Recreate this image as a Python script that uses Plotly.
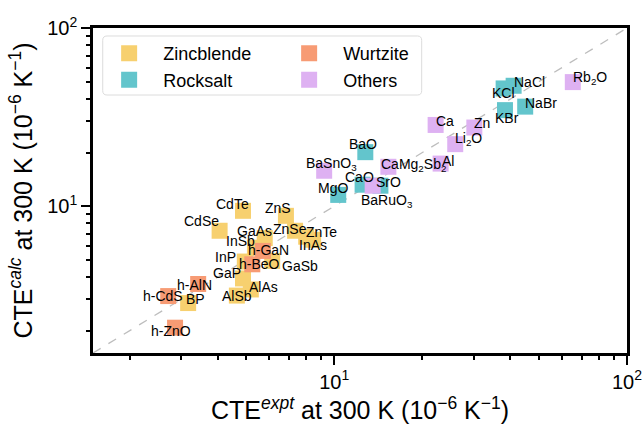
import plotly.graph_objects as go
import math

# ---------------- data ----------------
zb_names = ["CdTe", "ZnS", "CdSe", "GaAs", "ZnSe", "ZnTe", "InAs", "InSb", "InP", "GaSb", "GaP", "AlAs", "AlSb", "BP"]
zb_expt = [4.88, 6.84, 4.06, 5.79, 7.35, 8.02, 8.47, 5.36, 4.95, 6.14, 4.88, 5.19, 4.65, 3.17]
zb_calc = [9.42, 8.83, 7.28, 6.62, 7.28, 6.74, 6.48, 5.85, 4.89, 4.93, 3.93, 3.41, 3.15, 2.86]

wz_names = ["h-GaN", "h-BeO", "h-AlN", "h-CdS", "h-ZnO"]
wz_expt = [5.71, 5.25, 3.43, 2.71, 2.86]
wz_calc = [5.61, 4.72, 3.66, 3.13, 2.08]

rs_names = ["BaO", "CaO", "SrO", "MgO", "KCl", "NaCl", "KBr", "NaBr"]
rs_expt = [12.77, 12.5, 14.38, 10.32, 37.9, 41.0, 38.3, 44.9]
rs_calc = [20.1, 13.2, 13.03, 11.57, 45.8, 47.4, 34.6, 36.2]

ot_names = ["BaSnO<sub>3</sub>", "CaMg<sub>2</sub>Sb<sub>2</sub>", "BaRuO<sub>3</sub>", "Al",
            "Li<sub>2</sub>O", "Ca", "Zn", "Rb<sub>2</sub>O"]
ot_expt = [9.24, 15.31, 13.53, 23.09, 25.9, 22.2, 30.1, 65.3]
ot_calc = [15.81, 16.64, 13.03, 17.34, 22.29, 28.57, 27.63, 49.7]

# label offsets in pixels (dx right, dy down)
zb_off = [(-11, -7), (-7.5, -8), (-18, -9.3), (-10.7, -7.6), (-5, -2), (15, -4.7), (0, 5),
          (-14.5, -6.3), (-19, -4.7), (27.7, 5.4), (-16.5, -5), (13, -2.7), (0, 0), (7.5, -4.5)]
wz_off = [(6, -0.6), (7.7, -0.7), (-3.5, 1.2), (-5.5, 0), (-4, 3.2)]
rs_off = [(-2.7, -8), (-3.3, -7.4), (8, -4), (-5.5, -6.7), (0.3, 4.3), (15.8, -3.6), (2, 7.6), (15.7, -4)]
ot_off = [(7, -6.7), (25, -2), (14.2, 15), (7, -2.8), (13.5, -5), (9, -4), (7.3, -4.3), (17.3, -4.4)]

axis_min, axis_max = 1.5, 100
major_ticks = [10, 100]
major_text = ["10<sup>1</sup>", "10<sup>2</sup>"]
minor_ticks = [2, 3, 4, 5, 6, 7, 8, 9, 20, 30, 40, 50, 60, 70, 80, 90]

# (legend name, colour, names, expt, calc, offsets, legend entry width)
groups = [
    ("Zincblende", "#F7D06F", zb_names, zb_expt, zb_calc, zb_off, 107),
    ("Wurtzite", "#F79B74", wz_names, wz_expt, wz_calc, wz_off, 72),
    ("Rocksalt", "#63C5CC", rs_names, rs_expt, rs_calc, rs_off, 107),
    ("Others", "#DEB1F2", ot_names, ot_expt, ot_calc, ot_off, 72),
]

FONT = "Liberation Sans, Arial, sans-serif"

fig = go.Figure()
fig.add_trace(go.Scatter(x=[axis_min, axis_max], y=[axis_min, axis_max], mode="lines",
                         line=dict(color="#bdbdbd", width=1.3, dash="dash"),
                         showlegend=False, hoverinfo="skip"))

annotations = []
for name, color, names, xs, ys, offs, lw in groups:
    fig.add_trace(go.Scatter(x=xs, y=ys, mode="markers", name=name, legendwidth=lw,
                             marker=dict(symbol="square", size=16, color=color,
                                         line=dict(width=0))))
    for n, xv, yv, (dx, dy) in zip(names, xs, ys, offs):
        annotations.append(dict(x=math.log10(xv), y=math.log10(yv), xref="x", yref="y",
                                text=n, showarrow=False, xshift=dx, yshift=-dy,
                                font=dict(size=14, color="black", family=FONT)))

axis_common = dict(
    type="log", range=[math.log10(axis_min), math.log10(axis_max)], automargin=False,
    tickvals=major_ticks, ticktext=major_text, ticks="outside", ticklen=9, tickwidth=2,
    tickcolor="black", showline=True, linecolor="black", linewidth=2.5, mirror=True,
    showgrid=False, zeroline=False, tickfont=dict(size=20, color="black", family=FONT),
    minor=dict(tickvals=minor_ticks, ticks="outside", ticklen=4, tickwidth=1.5,
               tickcolor="black", showgrid=False),
)

# legend frame (rounded rectangle, paper coordinates)
fx0, fx1, fy0, fy1, r = 0.0182, 0.6155, 0.7938, 0.9754, 0.008
ry = r * 534 / 325
frame_path = (f"M {fx0 + r},{fy1} L {fx1 - r},{fy1} Q {fx1},{fy1} {fx1},{fy1 - ry} "
              f"L {fx1},{fy0 + ry} Q {fx1},{fy0} {fx1 - r},{fy0} L {fx0 + r},{fy0} "
              f"Q {fx0},{fy0} {fx0},{fy0 + ry} L {fx0},{fy1 - ry} Q {fx0},{fy1} {fx0 + r},{fy1} Z")

fig.update_layout(
    template="none",
    width=644, height=425,
    margin=dict(l=93, r=17, t=28, b=72),
    paper_bgcolor="white", plot_bgcolor="white",
    font=dict(family=FONT, color="black"),
    xaxis=dict(axis_common, title=dict(
        text="CTE<sup><i>expt</i></sup> at 300 K (10<sup>\u22126</sup> K<sup>\u22121</sup>)",
        font=dict(size=25, family=FONT), standoff=4)),
    yaxis=dict(axis_common, title=dict(
        text="CTE<sup><i>calc</i></sup> at 300 K (10<sup>\u22126</sup> K<sup>\u22121</sup>)",
        font=dict(size=25, family=FONT), standoff=8)),
    legend=dict(orientation="h", x=0.004, y=0.978, xanchor="left", yanchor="top",
                bgcolor="rgba(0,0,0,0)", borderwidth=0,
                font=dict(size=18, family=FONT), itemwidth=58,
                traceorder="normal"),
    shapes=[dict(type="path", xref="paper", yref="paper", path=frame_path,
                 fillcolor="white", line=dict(color="#dcdcdc", width=1), layer="above")],
    annotations=annotations,
    showlegend=True,
)

fig.write_html("out.html")
